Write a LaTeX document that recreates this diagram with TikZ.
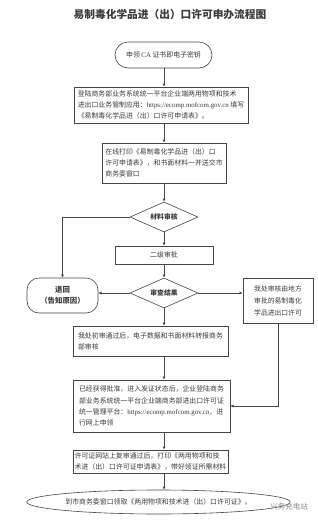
\documentclass[tikz,border=0pt]{standalone}
\usepackage{fontspec}
\setmainfont{Liberation Serif}
\newfontfamily\cjk{Noto Sans CJK SC}
\usetikzlibrary{arrows.meta,positioning,shapes.geometric,calc}
\definecolor{flowline}{RGB}{70,70,70}
\definecolor{flowtext}{RGB}{60,60,60}
\definecolor{wmgray}{RGB}{140,140,140}
\newcommand{\lat}[1]{{\rmfamily #1}}
\tikzset{
  fbox/.style={draw=flowline, line width=0.6pt, fill=white, inner sep=0pt, align=left,
               text=flowtext, font=\cjk\fontsize{6.9}{11.2}\selectfont},
  rbox/.style={fbox, rounded corners=#1},
  dmd/.style={fbox, diamond, aspect=2.3, minimum width=68pt, minimum height=30pt,
              align=center, font=\cjk\bfseries\fontsize{6.8}{8}\selectfont},
  oval/.style={fbox, ellipse, align=center},
  flowarr/.style={-{Latex[length=3.2pt,width=3pt]}, draw=flowline, line width=0.6pt},
  ttl/.style={font=\cjk\bfseries\fontsize{10.7}{12}\selectfont, text=flowtext},
}
\begin{document}
\begin{tikzpicture}[x=1pt, y=-1pt]
  \useasboundingbox[fill=white] (0,0) rectangle (317,520);
  \node[ttl] (title) at (170,14) {易制毒化学品进（出）口许可申办流程图};
  \node[rbox=13pt, minimum width=97pt, minimum height=26pt, align=center] (ca) at (163.5,55)
    {申领 \lat{CA} 证书即电子密钥};
  \node[fbox, minimum width=174pt, minimum height=36pt] (login) at (161,105)
    {登陆商务部业务系统统一平台企业端两用物项和技术\\
     进出口业务管制应用：\lat{https://ecomp.mofcom.gov.cn} 填写\\
     《易制毒化学品进（出）口许可申请表》。};
  \node[fbox, minimum width=124pt, minimum height=40pt] (print) at (164,163)
    {在线打印《易制毒化学品进（出）口\\
     许可申请表》，和书面材料一并送交市\\
     商务委窗口};
  \node[dmd] (check) at (164,217) {材料审核};
  \node[fbox, minimum width=98pt, minimum height=18pt, align=center] (second) at (164,255) {二级审批};
  \node[dmd] (result) at (164,293) {审查结果};
  \node[rbox=12pt, minimum width=71pt, minimum height=35pt, align=center,
        font=\cjk\bfseries\fontsize{7.4}{11}\selectfont] (back) at (62.5,295.5)
    {退回\\（告知原因）};
  \node[fbox, minimum width=70pt, minimum height=45pt, align=center,
        font=\cjk\fontsize{6.8}{12}\selectfont] (local) at (278,300.5)
    {我处审核由地方\\审批的易制毒化\\学品进出口许可};
  \node[fbox, minimum width=155pt, minimum height=30pt] (first) at (150.5,341)
    {我处初审通过后，电子数据和书面材料转报商务\\
     部审核};
  \node[fbox, minimum width=157pt, minimum height=52pt] (issue) at (151.5,406)
    {已经获得批准，进入发证状态后，企业登陆商务\\
     部业务系统统一平台企业端商务部进出口许可证\\
     统一管理平台：\lat{https://ecomp.mofcom.gov.cn}，进\\
     行网上申领};
  \node[fbox, minimum width=155pt, minimum height=23pt] (recheck) at (150.5,461.5)
    {许可证网站上复审通过后，打印《两用物项和技\\
     术进（出）口许可证申请表》，带好领证所需材料};
  \node[oval, minimum width=193pt, minimum height=24pt] (collect) at (158.5,502)
    {到市商务委窗口领取《两用物项和技术进（出）口许可证》。};
  \node[font=\cjk\fontsize{7.5}{9}\selectfont, text=wmgray] (mark) at (289,507) {兴务充电站};

  \draw[flowarr] (ca.south -| 164,0) -- (login.north -| 164,0);
  \draw[flowarr] (login.south -| 164,0) -- (print.north);
  \draw[flowarr] (print.south) -- (check.north);
  \draw[flowarr] (check.south) -- (second.north);
  \draw[flowarr] (second.south) -- (result.north);
  \draw[flowarr] (check.west) -| (back.north);
  \draw[flowarr] (result.west) -- (result.west -| back.east);
  \draw[flowarr] (result.east) -- (result.east -| local.west);
  \draw[flowarr] (result.south) -- (result.south |- first.north);
  \draw[flowarr] (first.south -| 164,0) -- (issue.north -| 164,0);
  \draw[flowarr] (local.south) |- (issue.east);
  \draw[flowarr] (issue.south -| 164,0) -- (recheck.north -| 164,0);
  \draw[flowarr] (recheck.south -| 164,0) -- (collect.north -| 164,0);
\end{tikzpicture}
\end{document}
